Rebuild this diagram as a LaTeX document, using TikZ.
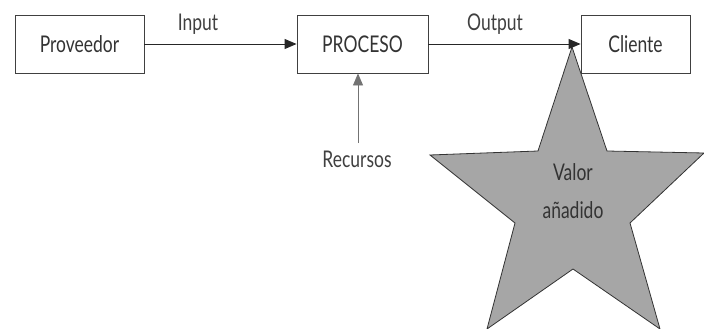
\documentclass[tikz,border=0pt]{standalone}
\usepackage{fontspec}
\setmainfont[FakeStretch=0.76]{Lato}
\usetikzlibrary{arrows.meta}
\tikzset{
  boxnode/.style={draw=black!75, line width=0.9pt, minimum width=#1, minimum height=58pt, inner sep=0pt, font=\fontsize{23}{25}\selectfont, text=black!80},
  boxnode/.default=130pt,
  lbl/.style={inner sep=0pt, anchor=base, font=\fontsize{23}{25}\selectfont, text=black!75},
  flow/.style={line width=0.9pt, draw=black!85, -{Triangle[length=12pt,width=10pt]}},
}
\begin{document}
\begin{tikzpicture}[x=1pt,y=-1pt]
\useasboundingbox (0,0) rectangle (704,329);
\node[boxnode=129pt] (prov) at (79.5,44) {Proveedor};
\node[boxnode=131pt] (proc) at (362.5,44) {PROCESO};
\node[boxnode=109pt] (cli) at (635.5,44) {Cliente};
\draw[flow] (prov.east) -- (proc.west);
\node[lbl] (inp) at (198,31) {Input};
\node[lbl] (outp) at (495,31) {Output};
\coordinate (rs) at (358,143);
\draw[line width=0.9pt, draw=black!55, -{Triangle[length=12pt,width=10pt]}] (rs) -- (proc.south -| rs);
\node[lbl] (rec) at (357,167) {Recursos};
\draw[draw=black!80, line width=0.8pt, fill=black!35]
  (572,47) -- (607,151) -- (704,153) -- (630,223) -- (660,329) -- (573,269)
  -- (487,329) -- (515,223) -- (430,155) -- (538,151) -- cycle;
\draw[flow] (proc.east) -- (cli.west);
\node[lbl, text=black!80] (v1) at (573,180) {Valor};
\node[lbl, text=black!80] (v2) at (573,218) {añadido};
\end{tikzpicture}
\end{document}
